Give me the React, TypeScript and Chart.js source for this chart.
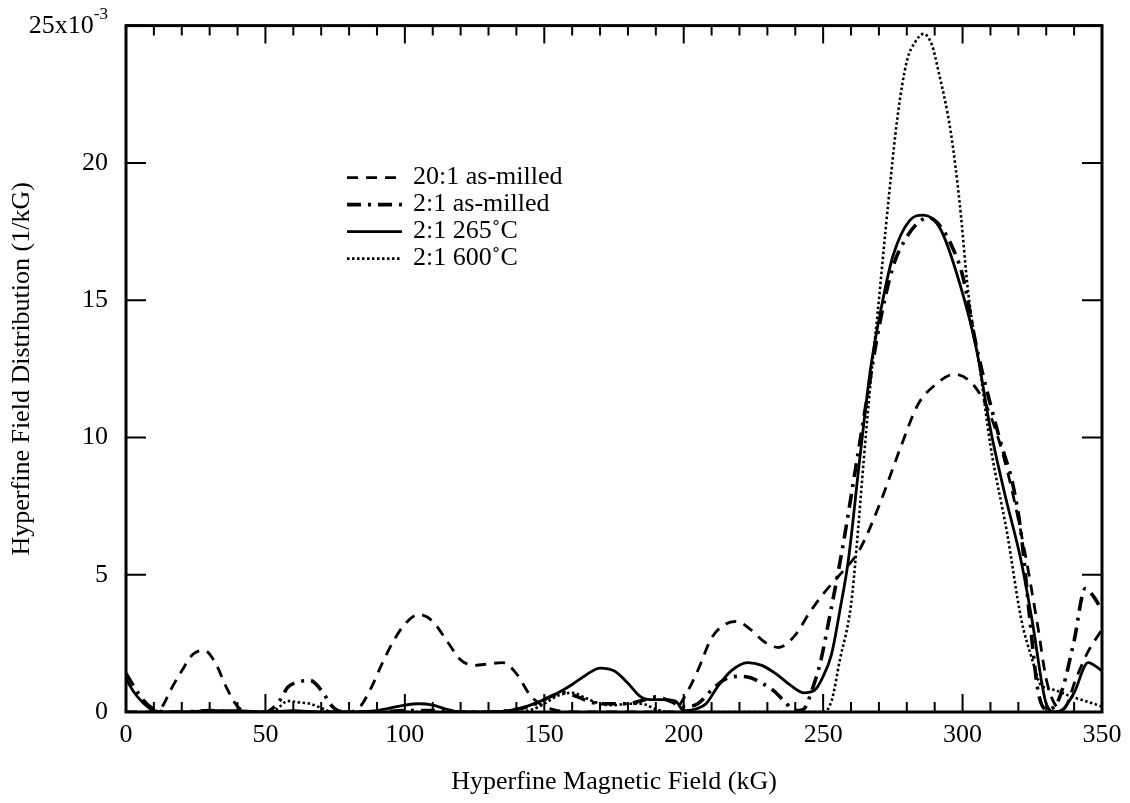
import React, { useEffect, useRef } from "react";
import { Chart, registerables } from "chart.js";

Chart.register(...registerables);

const SERIF = "'Liberation Serif', 'Times New Roman', serif";

// Axis ranges (field in kG, distribution in units of 1e-3 per kG)
const FIELD_MIN = 0;
const FIELD_MAX = 350;
const DIST_MIN = 0;
const DIST_MAX = 25;
const FIELD_LABEL_STEP = 50;
const FIELD_MINOR_STEP = 10;
const DIST_LABEL_STEP = 5;

// 20:1 as-milled
const asMilled20Field = [0, 5, 10, 13, 16, 20, 24, 28, 32, 36, 40, 45, 50, 60, 70, 80, 84, 88, 92, 96, 100, 105, 110, 115, 120, 125, 130, 135, 140, 145, 150, 155, 160, 170, 180, 190, 196, 200, 205, 210, 215, 219, 224, 229, 234, 240, 245, 250, 256, 263, 270, 278, 284, 290, 297, 304, 310, 316, 322, 327, 330, 333, 336, 341, 345, 350];
const asMilled20Value = [0, 0, 0, 0.2, 0.8, 1.5, 2.1, 2.25, 1.8, 0.9, 0.2, 0, 0, 0, 0, 0, 0.2, 0.9, 1.8, 2.6, 3.2, 3.55, 3.3, 2.6, 1.9, 1.7, 1.75, 1.8, 1.4, 0.6, 0.2, 0.05, 0, 0, 0, 0, 0, 0.5, 1.5, 2.7, 3.2, 3.3, 3.0, 2.55, 2.35, 2.8, 3.6, 4.3, 5.0, 5.9, 7.5, 9.7, 11.2, 11.9, 12.3, 11.9, 10.8, 8.8, 6.0, 3.1, 1.2, 0.3, 0.1, 1.3, 2.2, 3.0];

// 2:1 as-milled
const asMilled2Field = [0, 3, 6, 10, 15, 20, 30, 40, 50, 55, 58, 62, 66, 70, 74, 78, 90, 100, 110, 120, 130, 140, 147, 152, 157, 162, 167, 172, 180, 186, 190, 195, 200, 205, 210, 215, 220, 224, 228, 232, 236, 240, 243, 246, 249, 252, 257, 262, 266, 270, 275, 280, 285, 288, 292, 296, 300, 305, 310, 314, 318, 321, 324, 327, 330, 333, 336, 340, 344, 347, 350];
const asMilled2Value = [1.4, 0.9, 0.45, 0.1, 0, 0, 0.05, 0, 0, 0.4, 0.9, 1.1, 1.15, 0.8, 0.2, 0, 0, 0.05, 0.05, 0, 0, 0.1, 0.3, 0.55, 0.7, 0.55, 0.35, 0.3, 0.3, 0.45, 0.55, 0.4, 0.2, 0.3, 0.8, 1.2, 1.3, 1.25, 1.05, 0.8, 0.4, 0.05, 0.1, 0.8, 1.8, 3.3, 6.0, 9.1, 11.6, 14.0, 16.2, 17.3, 17.9, 18.0, 17.7, 17.0, 15.9, 13.3, 11.2, 9.7, 8.3, 6.5, 3.5, 0.8, 0.1, 0.2, 0.9, 2.6, 4.5, 4.2, 3.7];

// 2:1 annealed at 265 °C
const annealed265Field = [0, 3, 6, 10, 15, 20, 30, 40, 50, 60, 70, 80, 90, 95, 100, 105, 110, 115, 120, 130, 140, 145, 150, 155, 160, 165, 170, 175, 180, 184, 188, 192, 197, 200, 204, 208, 212, 217, 223, 228, 233, 238, 243, 247, 250, 253, 256, 259, 263, 267, 271, 275, 281, 286, 292, 299, 305, 310, 315, 321, 325, 330, 333, 336, 340, 345, 350];
const annealed265Value = [1.2, 0.7, 0.35, 0.05, 0, 0, 0.05, 0.05, 0, 0.05, 0, 0, 0.05, 0.15, 0.25, 0.3, 0.25, 0.1, 0, 0, 0.1, 0.25, 0.45, 0.7, 1.0, 1.35, 1.6, 1.5, 1.05, 0.6, 0.45, 0.45, 0.4, 0.05, 0.1, 0.3, 0.9, 1.5, 1.8, 1.7, 1.4, 1.0, 0.7, 0.8, 1.3, 2.1, 3.7, 5.5, 9.1, 12.5, 14.8, 16.6, 17.9, 18.1, 17.6, 15.6, 13.2, 10.3, 8.0, 5.5, 3.3, 0.3, 0, 0.1, 0.7, 1.8, 1.5];

// 2:1 annealed at 600 °C
const annealed600Field = [0, 10, 20, 30, 40, 50, 54, 58, 62, 66, 70, 74, 80, 100, 120, 140, 146, 150, 155, 160, 165, 170, 175, 180, 185, 190, 195, 200, 220, 240, 250, 253, 256, 260, 262, 264.5, 267, 269.5, 273.5, 276.7, 280, 283, 286, 289, 291, 295.8, 299, 302, 306.5, 310, 316, 321, 325, 328, 333, 338, 344, 350];
const annealed600Value = [0, 0, 0, 0, 0, 0, 0.1, 0.4, 0.35, 0.3, 0.15, 0, 0, 0, 0, 0, 0.1, 0.3, 0.6, 0.7, 0.5, 0.3, 0.25, 0.3, 0.3, 0.1, 0, 0, 0, 0, 0, 0.4, 1.9, 3.9, 6.0, 9.1, 12.0, 14.5, 18.7, 21.7, 23.7, 24.4, 24.7, 24.3, 23.5, 21.1, 18.5, 15.3, 12.3, 9.7, 6.5, 3.4, 1.9, 1.0, 0.8, 0.6, 0.4, 0.2];

const seriesLabels = ["20:1 as-milled", "2:1 as-milled", "2:1 265\u02daC", "2:1 600\u02daC"];

const toPoints = (xs: number[], ys: number[]) => xs.map((x, i) => ({ x, y: ys[i] }));

// Inward tick marks on all four sides plus the closed frame
const frameTicks = {
  id: "frameTicks",
  afterDatasetsDraw(chart: any) {
    const { ctx, chartArea: a, scales } = chart;
    const x = scales.x;
    const y = scales.y;
    ctx.save();
    ctx.strokeStyle = "#000";
    ctx.setLineDash([]);
    ctx.lineWidth = 2;
    ctx.beginPath();
    for (let v = FIELD_MIN; v <= FIELD_MAX; v += FIELD_MINOR_STEP) {
      const px = x.getPixelForValue(v);
      const len = v % FIELD_LABEL_STEP === 0 ? 18 : 10;
      ctx.moveTo(px, a.bottom);
      ctx.lineTo(px, a.bottom - len);
      ctx.moveTo(px, a.top);
      ctx.lineTo(px, a.top + len);
    }
    for (let v = DIST_MIN; v <= DIST_MAX; v += DIST_LABEL_STEP) {
      const py = y.getPixelForValue(v);
      ctx.moveTo(a.left, py);
      ctx.lineTo(a.left + 20, py);
      ctx.moveTo(a.right, py);
      ctx.lineTo(a.right - 20, py);
    }
    ctx.stroke();
    ctx.lineWidth = 3;
    ctx.strokeRect(a.left, a.top, a.right - a.left, a.bottom - a.top);
    ctx.restore();
  },
};

// Top y label carrying the 10^-3 multiplier
const scaleMultiplier = {
  id: "scaleMultiplier",
  afterDraw(chart: any) {
    const { ctx, chartArea: a, scales } = chart;
    const py = scales.y.getPixelForValue(DIST_MAX);
    const right = a.left - 18;
    ctx.save();
    ctx.fillStyle = "#000";
    ctx.textBaseline = "middle";
    ctx.textAlign = "right";
    ctx.font = `17px ${SERIF}`;
    const supW = ctx.measureText("-3").width;
    ctx.fillText("-3", right, py - 11);
    ctx.font = `26px ${SERIF}`;
    ctx.fillText("25x10", right - supW, py + 1);
    ctx.restore();
  },
};

// Legend inset in the upper-left part of the plot
const insetLegend = {
  id: "insetLegend",
  afterDraw(chart: any) {
    const { ctx, chartArea: a } = chart;
    const x0 = a.left + 221;
    const x1 = a.left + 276;
    const tx = a.left + 287;
    const y0 = a.top + 152;
    const dy = 27;
    chart.data.datasets.forEach((ds: any, i: number) => {
      const yy = y0 + i * dy;
      ctx.save();
      ctx.strokeStyle = "#000";
      ctx.lineWidth = ds.borderWidth;
      ctx.setLineDash(ds.borderDash || []);
      ctx.beginPath();
      ctx.moveTo(x0, yy);
      ctx.lineTo(x1, yy);
      ctx.stroke();
      ctx.setLineDash([]);
      ctx.fillStyle = "#000";
      ctx.font = `26px ${SERIF}`;
      ctx.textBaseline = "middle";
      ctx.textAlign = "left";
      ctx.fillText(ds.label, tx, yy);
      ctx.restore();
    });
  },
};

export default function App() {
  const canvasRef = useRef<HTMLCanvasElement | null>(null);

  useEffect(() => {
    document.body.style.margin = "0";
    const canvas = canvasRef.current;
    if (!canvas) return;

    const lineBase = {
      borderColor: "#000",
      backgroundColor: "#000",
      pointRadius: 0,
      fill: false,
      cubicInterpolationMode: "monotone" as const,
    };

    const chart = new Chart(canvas, {
      type: "line",
      data: {
        datasets: [
          { ...lineBase, label: seriesLabels[0], data: toPoints(asMilled20Field, asMilled20Value), borderWidth: 2.8, borderDash: [11, 8] },
          { ...lineBase, label: seriesLabels[1], data: toPoints(asMilled2Field, asMilled2Value), borderWidth: 3.6, borderDash: [14, 7, 3, 7] },
          { ...lineBase, label: seriesLabels[2], data: toPoints(annealed265Field, annealed265Value), borderWidth: 2.8, borderDash: [] },
          { ...lineBase, label: seriesLabels[3], data: toPoints(annealed600Field, annealed600Value), borderWidth: 2.6, borderDash: [2.5, 2.5] },
        ],
      },
      options: {
        animation: false,
        responsive: false,
        maintainAspectRatio: false,
        layout: { padding: { top: 23, right: 28, left: 0, bottom: 0 } },
        plugins: {
          legend: { display: false },
          tooltip: { enabled: false },
        },
        scales: {
          x: {
            type: "linear",
            min: FIELD_MIN,
            max: FIELD_MAX,
            grid: { display: false },
            border: { display: false },
            ticks: {
              stepSize: FIELD_LABEL_STEP,
              color: "#000",
              font: { family: SERIF, size: 26 },
              padding: 0,
              maxRotation: 0,
            },
            title: {
              display: true,
              text: "Hyperfine Magnetic Field (kG)",
              color: "#000",
              font: { family: SERIF, size: 26 },
              padding: { top: 0, bottom: 5 },
            },
            afterFit: (s: any) => {
              s.height = 91;
            },
          },
          y: {
            min: DIST_MIN,
            max: DIST_MAX,
            grid: { display: false },
            border: { display: false },
            ticks: {
              stepSize: DIST_LABEL_STEP,
              color: "#000",
              font: { family: SERIF, size: 26 },
              padding: 10,
              callback: (v: any) => (Number(v) === DIST_MAX ? "" : String(v)),
            },
            title: {
              display: true,
              text: "Hyperfine Field Distribution (1/kG)",
              color: "#000",
              font: { family: SERIF, size: 26 },
              padding: { top: 7, bottom: 0 },
            },
            afterFit: (s: any) => {
              s.width = 126;
            },
          },
        },
      },
      plugins: [frameTicks, scaleMultiplier, insetLegend],
    });

    return () => chart.destroy();
  }, []);

  return (
    <div style={{ width: 1130, height: 803 }}>
      <canvas ref={canvasRef} width={1130} height={803} style={{ display: "block" }} />
    </div>
  );
}
